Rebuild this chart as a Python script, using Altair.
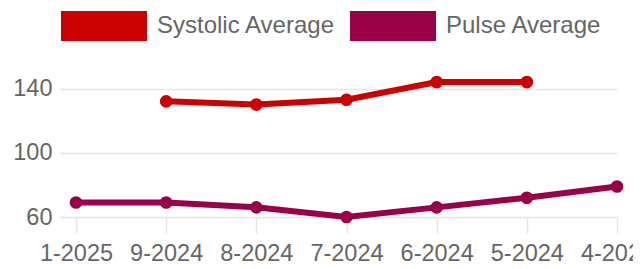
import altair as alt
import pandas as pd

months = ["1-2025", "9-2024", "8-2024", "7-2024", "6-2024", "5-2024", "4-2024"]
series = ["Systolic Average", "Pulse Average"]
systolic = [None, 132, 130, 133, 144, 144, None]
pulse = [69, 69, 66, 60, 66, 72, 79]
colors = ["#cc0000", "#990047"]
y_ticks = [60, 100, 140]
y_domain = [60, 159]

rows = []
for i, (m, s, p) in enumerate(zip(months, systolic, pulse)):
    if s is not None:
        rows.append({"month": m, "series": series[0], "value": s, "idx": i})
    if p is not None:
        rows.append({"month": m, "series": series[1], "value": p, "idx": i})
df = pd.DataFrame(rows)

FONT = "Liberation Sans"
GRID = "#e5e5e5"

x = alt.X(
    "month:N",
    scale=alt.Scale(type="point", domain=months, padding=0),
    axis=alt.Axis(
        title=None, labelAngle=0, labelFontSize=23.5, labelColor="#666666",
        labelFont=FONT, tickSize=16, tickColor=GRID, tickWidth=1.5,
        gridColor=GRID, gridWidth=1.5, domain=False, labelPadding=8,
        labelOverlap=False, labelBound=False, labelFlush=False,
    ),
)
y = alt.Y(
    "value:Q",
    scale=alt.Scale(domain=y_domain, nice=False, zero=False),
    axis=alt.Axis(
        title=None, values=y_ticks, labelFontSize=23.5, labelColor="#666666",
        labelFont=FONT, tickSize=16, tickColor=GRID, tickWidth=1.5,
        gridColor=GRID, gridWidth=1.5, domain=False, labelPadding=8,
    ),
)
color_scale = alt.Scale(domain=series, range=colors)

lines = alt.Chart(df).mark_line(strokeWidth=6).encode(
    x=x, y=y,
    color=alt.Color("series:N", scale=color_scale, legend=None),
    order=alt.Order("idx:Q"),
)
points = alt.Chart(df).mark_point(filled=True, size=160, opacity=1).encode(
    x=x, y=y,
    color=alt.Color(
        "series:N", scale=color_scale,
        legend=alt.Legend(
            title=None, orient="none", direction="horizontal",
            legendX=13, legendY=-47, padding=0, offset=0,
            symbolType="M-2.867,-1H2.867V1H-2.867Z", symbolSize=900,
            symbolOpacity=1, symbolStrokeWidth=0,
            labelFontSize=24, labelColor="#666666", labelFont=FONT,
            labelLimit=400, labelOffset=38, columnPadding=13,
        ),
    ),
)

chart = (
    alt.layer(lines, points)
    .resolve_legend(color="independent")
    .properties(
        width=541, height=159,
        autosize=alt.AutoSizeParams(type="none"),
        padding={"left": 68, "top": 50, "right": 16, "bottom": 56},
    )
    .configure_view(stroke=None)
)

chart.save("out.html", embed_options={"renderer": "svg", "actions": False})
